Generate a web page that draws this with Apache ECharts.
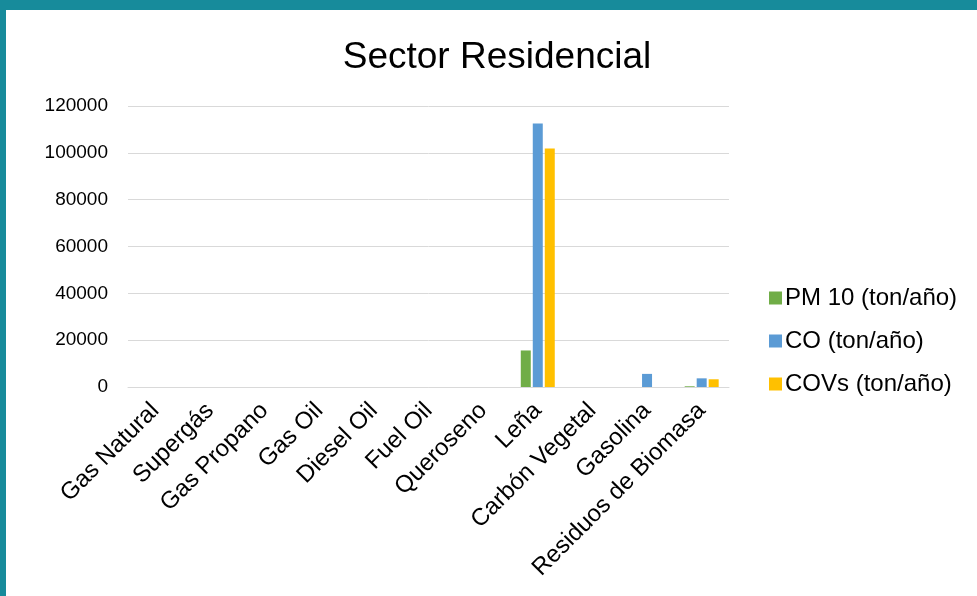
<!DOCTYPE html>
<html>
<head>
<meta charset="utf-8">
<script src="https://cdn.jsdelivr.net/npm/echarts@6/dist/echarts.min.js"></script>
<style>
html,body{margin:0;padding:0;background:#178b9b;}
#wrap{position:absolute;left:6px;top:10px;width:971px;height:586px;background:#fff;}
#main{width:971px;height:586px;}
</style>
</head>
<body>
<div id="wrap"><div id="main"></div></div>
<script>
var categories = ['Gas Natural','Supergás','Gas Propano','Gas Oil','Diesel Oil','Fuel Oil','Queroseno','Leña','Carbón Vegetal','Gasolina','Residuos de Biomasa']
var pm10 = [0, 0, 0, 0, 0, 0, 0, 15600, 0, 0, 300]
var co = [0, 0, 0, 0, 0, 0, 0, 112500, 0, 5600, 3700]
var covs = [0, 0, 0, 0, 0, 0, 0, 101800, 0, 0, 3300]
var yTicks = [0, 20000, 40000, 60000, 80000, 100000, 120000]

var chart = echarts.init(document.getElementById('main'))
var font = 'Liberation Sans, Arial, sans-serif'
var option = {
  animation: false,
  title: {
    text: 'Sector Residencial',
    left: 486, top: 24, textAlign: 'center',
    textStyle: {fontSize: 37, fontWeight: 'normal', color: '#000', fontFamily: font}
  },
  legend: {
    orient: 'vertical',
    left: 758, top: 271,
    itemWidth: 13, itemHeight: 13, itemGap: 19,
    icon: 'rect',
    textStyle: {fontSize: 24, lineHeight: 24, color: '#000', fontFamily: font, padding: [0, 0, 0, -2]},
    data: ['PM 10 (ton/año)', 'CO (ton/año)', 'COVs (ton/año)']
  },
  grid: {left: 122, right: 248, top: 96, bottom: 209},
  xAxis: {
    type: 'category',
    data: categories,
    axisTick: {show: false},
    axisLine: {lineStyle: {color: '#d9d9d9', width: 1}},
    axisLabel: {rotate: 45, fontSize: 24, color: '#000', fontFamily: font, margin: 20, interval: 0}
  },
  yAxis: {
    type: 'value',
    min: yTicks[0], max: yTicks[yTicks.length - 1], interval: 20000,
    axisLine: {show: false},
    axisTick: {show: false},
    splitLine: {lineStyle: {color: '#d9d9d9', width: 1}},
    axisLabel: {fontSize: 19, color: '#000', fontFamily: font, margin: 20, formatter: function (v) { return String(v) }}
  },
  series: [
    {name: 'PM 10 (ton/año)', type: 'bar', data: pm10, barWidth: 10, barGap: '20%', itemStyle: {color: '#70ad47'}},
    {name: 'CO (ton/año)', type: 'bar', data: co, barWidth: 10, barGap: '20%', itemStyle: {color: '#5b9bd5'}},
    {name: 'COVs (ton/año)', type: 'bar', data: covs, barWidth: 10, barGap: '20%', itemStyle: {color: '#ffc000'}}
  ]
}
chart.setOption(option)
</script>
</body>
</html>
